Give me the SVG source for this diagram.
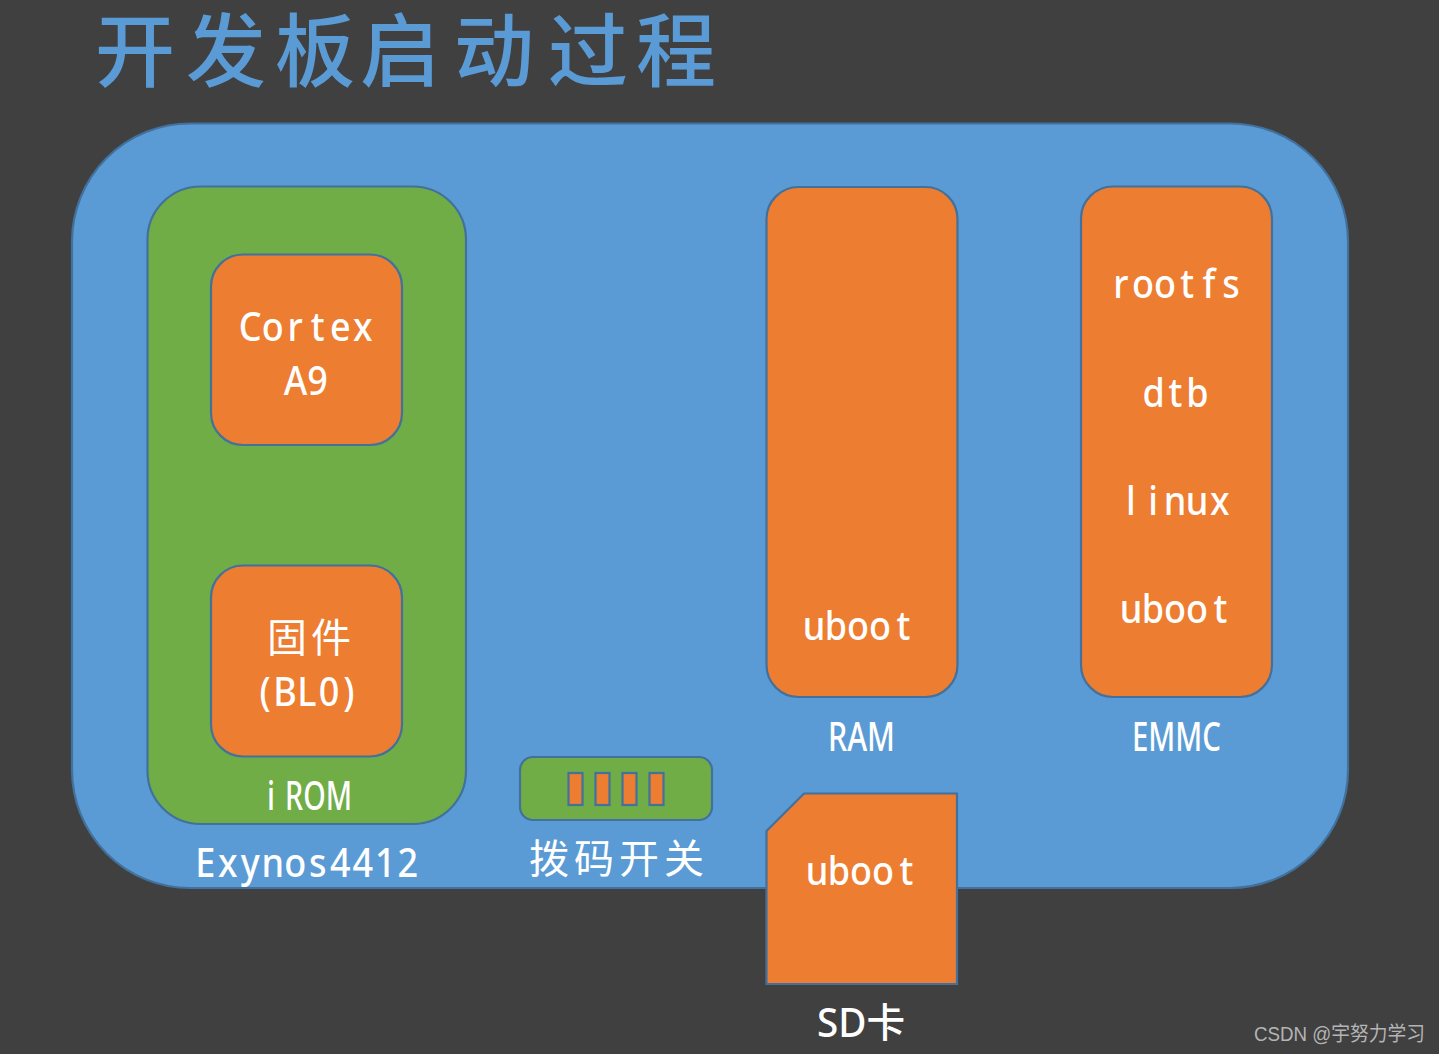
<svg xmlns="http://www.w3.org/2000/svg" width="1439" height="1054" viewBox="0 0 1439 1054">
  <style>
    .shape { stroke: #41719c; stroke-width: 2.2; }
    .blue { fill: #5b9bd5; }
    .green { fill: #70ad47; }
    .orange { fill: #ed7d31; }
    text { font-family: "Noto Sans", "Noto Sans CJK SC", sans-serif; fill: #ffffff; font-size: 40px; font-weight: 500; }
    .cjk { font-family: "Noto Sans CJK SC", sans-serif; font-weight: 400; }
    /* Evenly pitched narrow lettering: each glyph is centred on its own x */
    .mono { text-anchor: middle; }
    .title { font-family: "Liberation Sans", "Noto Sans CJK SC", sans-serif; fill: #5b9bd5; font-size: 80px; font-weight: 500; text-anchor: middle; }
    .mark { fill: #b4b4b4; font-family: "Liberation Sans", "Noto Sans CJK SC", sans-serif; font-size: 20px; font-weight: 400; }
  </style>

  <rect width="1439" height="1054" fill="#404040"/>

  <text class="title" x="135 226 315 400 494 588 676" y="80">开发板启动过程</text>

  <g id="board">
    <rect class="shape blue" x="72" y="123.500" width="1276" height="764.500" rx="118" ry="118"/>
    <text class="mono" transform="translate(194 877) scale(.9 1)" x="12.500 37.500 62.500 87.500 112.500 137.500 162.500 187.500 212.500 237.500">Exynos4412</text>
  </g>

  <g id="irom">
    <rect class="shape green" x="147.500" y="186.500" width="318.500" height="637.500" rx="53" ry="53"/>
    <text x="267" y="810" textLength="8" lengthAdjust="spacingAndGlyphs">i</text>
    <text x="285" y="810" textLength="67" lengthAdjust="spacingAndGlyphs">ROM</text>
  </g>

  <g id="cortex">
    <rect class="shape orange" x="211" y="254.500" width="191" height="190.500" rx="32" ry="32"/>
    <text class="mono" transform="translate(239 341) scale(.9 1)" x="12.500 37.500 62.500 87.500 112.500 137.500">Cortex</text>
    <text class="mono" transform="translate(284 395) scale(.9 1)" x="12.800 37.300">A9</text>
  </g>

  <g id="firmware">
    <rect class="shape orange" x="211" y="565.500" width="191" height="191" rx="32" ry="32"/>
    <text class="cjk" x="267" y="652" textLength="84" lengthAdjust="spacing">固件</text>
    <text class="mono" transform="translate(252 706) scale(.9 1)" x="14.500 36.700 61.100 85.600 107.700">(BL0)</text>
  </g>

  <g id="ram">
    <rect class="shape orange" x="766.500" y="187" width="191" height="510" rx="32" ry="32"/>
    <text class="mono" transform="translate(803 640) scale(.9 1)" x="12.200 36.700 61.100 85.600 111.500">uboot</text>
    <text x="828" y="751" textLength="67" lengthAdjust="spacingAndGlyphs">RAM</text>
  </g>

  <g id="emmc">
    <rect class="shape orange" x="1081" y="186.500" width="191" height="510.500" rx="32" ry="32"/>
    <text class="mono" transform="translate(1110 298) scale(.9 1)" x="12.200 36.700 61.100 85.600 110 134.400">rootfs</text>
    <text class="mono" transform="translate(1142 407) scale(.9 1)" x="13 37.200 61.600">dtb</text>
    <text class="mono" transform="translate(1120 515) scale(.9 1)" x="12.200 36.700 61.100 85.600 111">linux</text>
    <text class="mono" transform="translate(1120 623) scale(.9 1)" x="12.200 36.700 61.100 85.600 111.500">uboot</text>
    <text x="1132" y="751" textLength="89" lengthAdjust="spacingAndGlyphs">EMMC</text>
  </g>

  <g id="dip-switch">
    <rect class="shape green" x="520" y="757" width="192" height="63" rx="13" ry="13"/>
    <rect class="shape orange" x="568.500" y="773" width="14" height="32"/>
    <rect class="shape orange" x="595.500" y="773" width="14" height="32"/>
    <rect class="shape orange" x="622.500" y="773" width="14" height="32"/>
    <rect class="shape orange" x="649.500" y="773" width="14" height="32"/>
    <text class="cjk" x="529" y="873" textLength="175" lengthAdjust="spacing">拨码开关</text>
  </g>

  <g id="sd-card">
    <path class="shape orange" d="M804 793.500H957V984H766.500V831Z"/>
    <text class="mono" transform="translate(806 885) scale(.9 1)" x="12.200 36.700 61.100 85.600 111.500">uboot</text>
    <text x="817" y="1037" textLength="88" lengthAdjust="spacingAndGlyphs">SD卡</text>
  </g>

  <g id="connectors"/>

  <text class="mark" x="1254" y="1041" textLength="171" lengthAdjust="spacingAndGlyphs">CSDN @宇努力学习</text>
</svg>
